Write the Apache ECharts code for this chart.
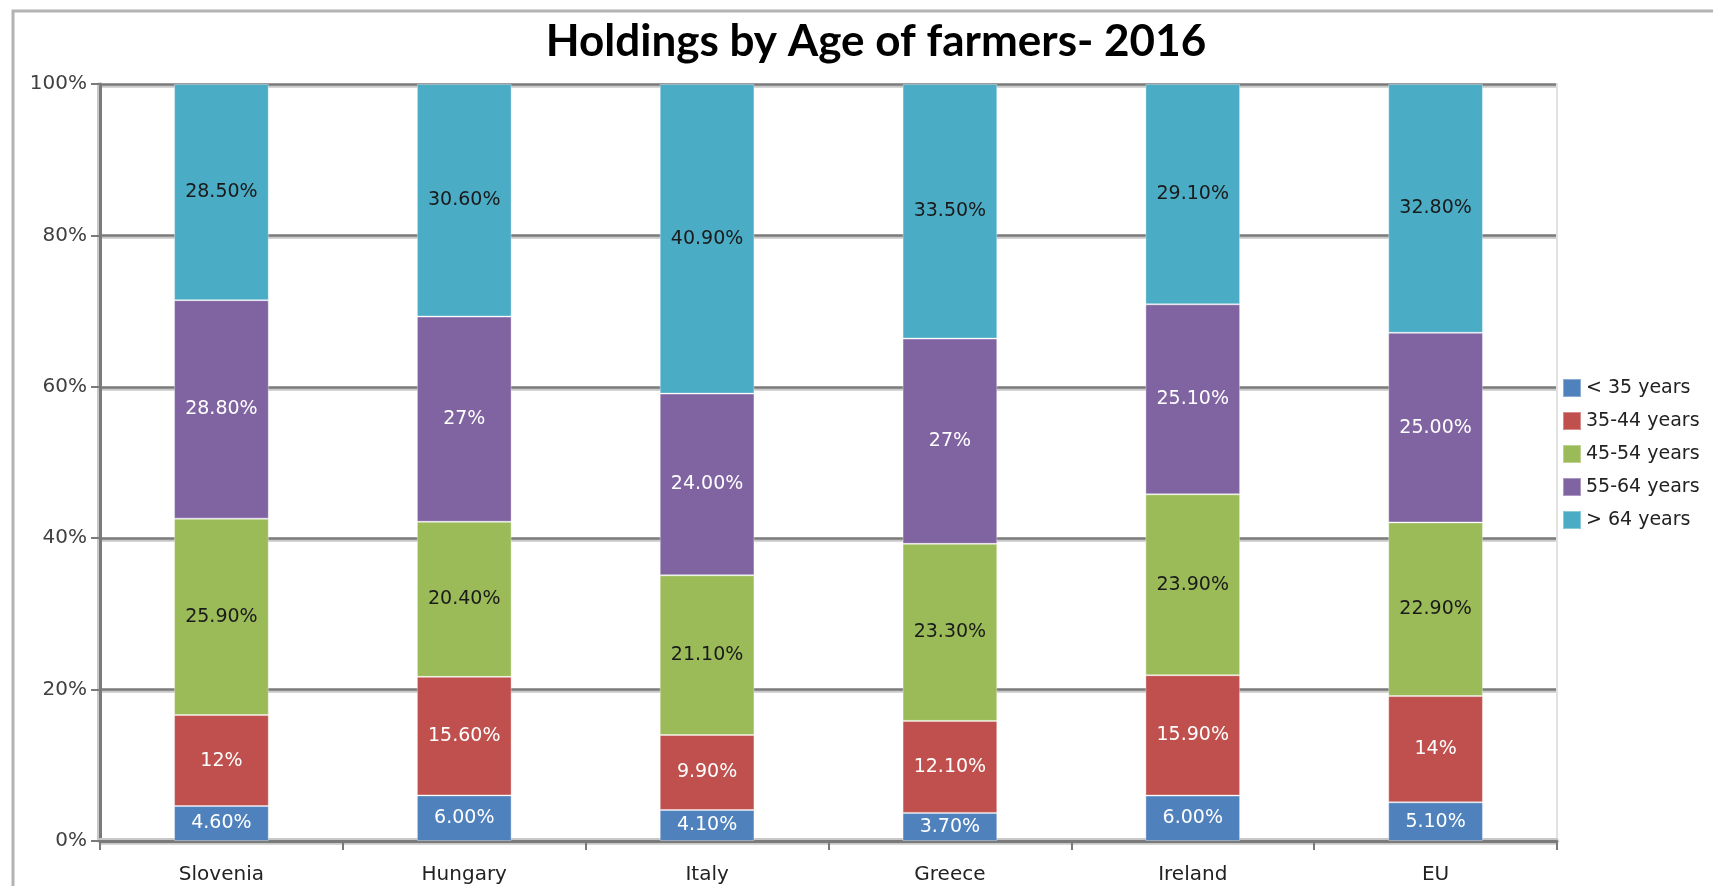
<!DOCTYPE html>
<html>
<head>
<meta charset="utf-8">
<script src="https://cdn.jsdelivr.net/npm/echarts@6/dist/echarts.min.js"></script>
<style>
html,body{margin:0;padding:0;background:#fff;}
#chart{width:1713px;height:886px;}
</style>
</head>
<body>
<div id="chart"></div>
<script>
const categories = ['Slovenia', 'Hungary', 'Italy', 'Greece', 'Ireland', 'EU'];
const seriesNames = ['< 35 years', '35-44 years', '45-54 years', '55-64 years', '> 64 years'];
const under35 = [4.6, 6.0, 4.1, 3.7, 6.0, 5.1];
const age35to44 = [12, 15.6, 9.9, 12.1, 15.9, 14];
const age45to54 = [25.9, 20.4, 21.1, 23.3, 23.9, 22.9];
const age55to64 = [28.8, 27, 24.0, 27, 25.1, 25.0];
const over64 = [28.5, 30.6, 40.9, 33.5, 29.1, 32.8];
const labelsUnder35 = ['4.60%', '6.00%', '4.10%', '3.70%', '6.00%', '5.10%'];
const labels35to44 = ['12%', '15.60%', '9.90%', '12.10%', '15.90%', '14%'];
const labels45to54 = ['25.90%', '20.40%', '21.10%', '23.30%', '23.90%', '22.90%'];
const labels55to64 = ['28.80%', '27%', '24.00%', '27%', '25.10%', '25.00%'];
const labelsOver64 = ['28.50%', '30.60%', '40.90%', '33.50%', '29.10%', '32.80%'];
const yTicks = [0, 20, 40, 60, 80, 100];

const allValues = [under35, age35to44, age45to54, age55to64, over64];
const allLabels = [labelsUnder35, labels35to44, labels45to54, labels55to64, labelsOver64];
const colors = ['#4f81bd', '#c0504d', '#9bbb59', '#8064a2', '#4bacc6'];
const labelColors = ['#ffffff', '#ffffff', '#1a1a1a', '#ffffff', '#1a1a1a'];
const totals = categories.map((c, i) => allValues.reduce((s, arr) => s + arr[i], 0));

const FONT = 'DejaVu Sans';

const series = allValues.map((vals, si) => ({
  name: seriesNames[si],
  type: 'bar',
  stack: 'total',
  barWidth: '39%',
  data: vals.map((v, i) => v / totals[i] * 100),
  itemStyle: { color: colors[si], borderColor: 'rgba(255,255,255,0.35)', borderWidth: 1 },
  label: {
    show: true,
    position: 'inside',
    fontFamily: FONT,
    fontSize: 19,
    color: labelColors[si],
    formatter: p => allLabels[si][p.dataIndex]
  },
  emphasis: { disabled: true }
}));

const chart = echarts.init(document.getElementById('chart'));
chart.setOption({
  animation: false,
  backgroundColor: '#ffffff',
  color: colors,
  title: {
    text: 'Holdings by Age of farmers- 2016',
    left: 871,
    textAlign: 'center',
    top: 15,
    textStyle: { fontFamily: 'Lato', fontWeight: 'bold', fontSize: 44, color: '#000' }
  },
  legend: {
    orient: 'vertical',
    left: 1557,
    top: 373,
    itemWidth: 18,
    itemHeight: 18,
    itemGap: 13,
    icon: 'rect',
    data: seriesNames,
    textStyle: { fontFamily: FONT, fontSize: 19, color: '#222' }
  },
  graphic: [{
    type: 'polyline',
    shape: { points: [[13, 900], [13, 11], [1720, 11]] },
    style: { stroke: '#b3b3b3', lineWidth: 3, fill: null },
    silent: true
  }],
  grid: { left: 100, right: 156, top: 84, bottom: 45 },
  xAxis: {
    type: 'category',
    data: categories,
    axisLine: { lineStyle: { color: '#7a7a7a', width: 3, shadowColor: '#c8c8c8', shadowOffsetY: -2 } },
    axisTick: { show: true, length: 9, lineStyle: { color: '#7a7a7a', width: 2 } },
    axisLabel: { fontFamily: FONT, fontSize: 20, color: '#222', margin: 24 }
  },
  yAxis: [{
    type: 'value',
    min: yTicks[0],
    max: yTicks[yTicks.length - 1],
    interval: yTicks[1] - yTicks[0],
    axisLine: { show: true, lineStyle: { color: '#7a7a7a', width: 3, shadowColor: '#c8c8c8', shadowOffsetX: -2 } },
    axisTick: { show: true, length: 9, lineStyle: { color: '#7a7a7a', width: 2 } },
    axisLabel: { fontFamily: FONT, fontSize: 20, color: '#404040', margin: 13, formatter: '{value}%' },
    splitLine: { show: true, lineStyle: { color: '#7a7a7a', width: 2.5, shadowColor: '#c8c8c8', shadowOffsetY: 2 } }
  }, {
    type: 'value',
    position: 'right',
    min: 0,
    max: 100,
    axisLine: { show: true, lineStyle: { color: '#e2e2e2', width: 2 } },
    axisTick: { show: false },
    axisLabel: { show: false },
    splitLine: { show: false }
  }],
  series: series
});
</script>
</body>
</html>
